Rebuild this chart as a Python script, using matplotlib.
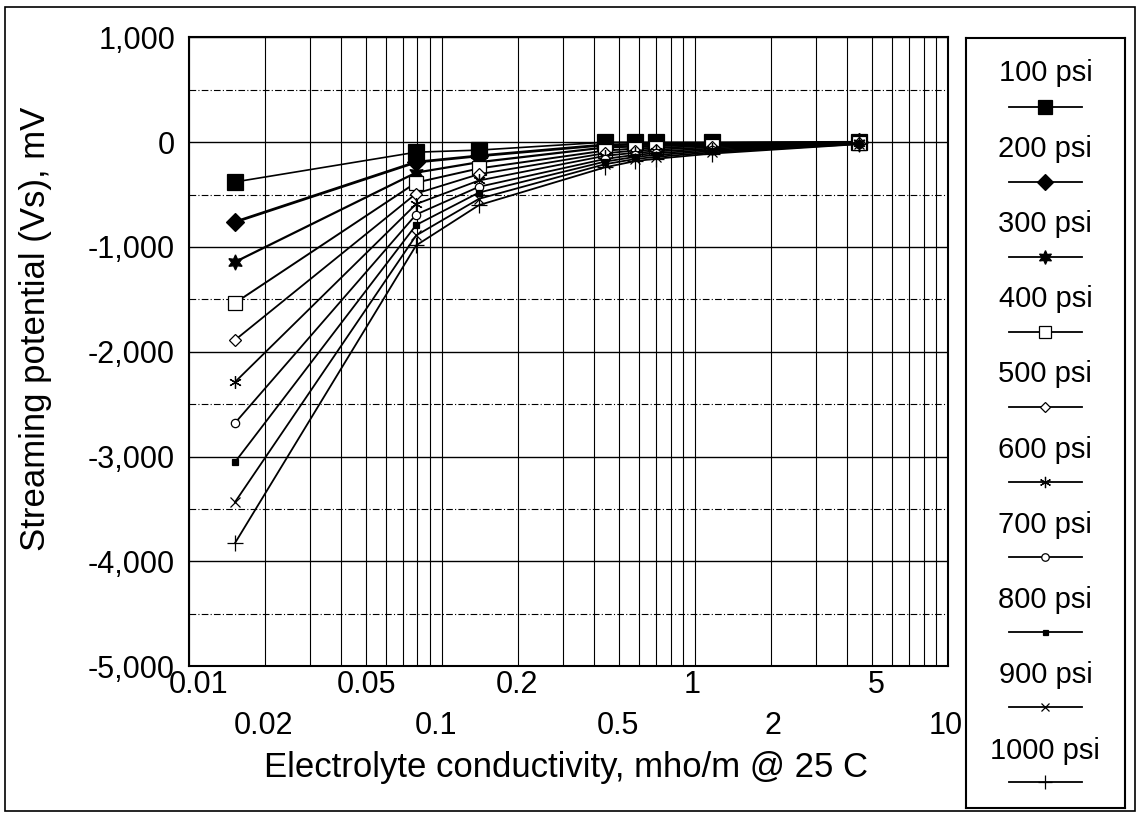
import matplotlib
matplotlib.use("Agg")
import matplotlib.pyplot as plt
from matplotlib.ticker import FixedLocator, LogLocator, FuncFormatter, NullFormatter
from matplotlib.lines import Line2D
from matplotlib.patches import Rectangle

plt.rcParams['font.family'] = ['Liberation Sans', 'DejaVu Sans']

# conductivity values (mho/m @ 25 C)
conductivity = [0.0152, 0.079, 0.14, 0.44, 0.58, 0.70, 1.17, 4.45]

# streaming potential (mV) for each pressure
pressures = ["100 psi", "200 psi", "300 psi", "400 psi", "500 psi",
             "600 psi", "700 psi", "800 psi", "900 psi", "1000 psi"]
vs_100 = [-379, -95, -75, 0, 0, 0, 0, 5]
vs_200 = [-761, -190, -130, -25, -20, -18, -12, -2]
vs_300 = [-1143, -290, -190, -50, -40, -35, -24, -4]
vs_400 = [-1534, -385, -250, -80, -60, -52, -36, -6]
vs_500 = [-1888, -490, -305, -105, -80, -70, -48, -8]
vs_600 = [-2289, -590, -365, -130, -100, -88, -60, -10]
vs_700 = [-2680, -690, -425, -160, -120, -105, -72, -12]
vs_800 = [-3053, -790, -480, -185, -140, -122, -84, -14]
vs_900 = [-3435, -890, -540, -210, -160, -140, -96, -16]
vs_1000 = [-3826, -985, -600, -240, -180, -158, -108, -18]
series = [vs_100, vs_200, vs_300, vs_400, vs_500,
          vs_600, vs_700, vs_800, vs_900, vs_1000]

# x labels are free text boxes in the original, placed in two rows
xlab_top = ["0.01", "0.05", "0.2", "1", "5"]
xlab_bottom = ["0.02", "0.1", "0.5", "2", "10"]
# horizontal placement of those text boxes (axes fraction)
xpos_top = [0.012, 0.234, 0.432, 0.663, 0.905]
xpos_bottom = [0.0975, 0.325, 0.565, 0.769, 0.997]

# marker styles: (marker, size, facecolor, linewidth)
styles = [
    ("s", 11, "black", 1.2),
    ("D", 9, "black", 2.0),
    ((6, 1, 0), 11, "black", 1.6),
    ("s", 10, "white", 1.4),
    ("D", 6, "white", 1.3),
    ((6, 2, 0), 9, "black", 1.3),
    ("o", 6, "white", 1.3),
    ("s", 4, "black", 1.3),
    ("x", 7, "black", 1.3),
    ("+", 11, "black", 1.3),
]

FS = 22

fig = plt.figure(figsize=(11.4, 8.15), dpi=100)
ax = fig.add_axes([0.1658, 0.1828, 0.6658, 0.7712])

for vals, (mk, ms, fc, lw) in zip(series, styles):
    ax.plot(conductivity, vals, color="black", linewidth=lw, marker=mk,
            markersize=ms, markerfacecolor=fc, markeredgecolor="black",
            markeredgewidth=0.9, zorder=3)

ax.set_xscale("log")
ax.set_xlim(0.01, 10)
ax.set_ylim(-5000, 1000)

ax.xaxis.set_major_locator(LogLocator(base=10))
ax.xaxis.set_minor_locator(LogLocator(base=10, subs=range(2, 10)))
ax.xaxis.set_major_formatter(NullFormatter())
ax.xaxis.set_minor_formatter(NullFormatter())
ax.yaxis.set_major_locator(FixedLocator(range(-5000, 1001, 1000)))
ax.yaxis.set_minor_locator(FixedLocator(range(-4500, 1000, 1000)))
ax.yaxis.set_major_formatter(FuncFormatter(lambda v, p: f"{v:,.0f}"))

ax.grid(True, which="both", axis="x", color="black", linewidth=0.8)
ax.grid(True, which="major", axis="y", color="black", linewidth=1.0)
ax.grid(True, which="minor", axis="y", color="black", linewidth=0.8,
        linestyle=(0, (6, 2, 1, 2)))
ax.tick_params(axis="x", which="both", length=0)
ax.tick_params(axis="y", which="both", length=0, labelsize=FS, pad=10)
for s in ax.spines.values():
    s.set_linewidth(1.5)

for x, t in zip(xpos_top, xlab_top):
    ax.text(x, -0.006, t, transform=ax.transAxes, ha="center",
            va="top", fontsize=FS)
for x, t in zip(xpos_bottom, xlab_bottom):
    ax.text(x, -0.072, t, transform=ax.transAxes, ha="center",
            va="top", fontsize=FS)

ax.set_xlabel("Electrolyte conductivity, mho/m @ 25 C", fontsize=25)
ax.xaxis.set_label_coords(0.497, -0.136)
ax.set_ylabel("Streaming potential (Vs), mV", fontsize=25)
ax.yaxis.set_label_coords(-0.18, 0.536)

# legend: label text above each line sample
lax = fig.add_axes([0.847, 0.0086, 0.14, 0.9444])
lax.set_xlim(0, 1)
lax.set_ylim(0, 1)
lax.set_xticks([])
lax.set_yticks([])
for s in lax.spines.values():
    s.set_linewidth(1.5)
for i, (name, (mk, ms, fc, lw)) in enumerate(zip(pressures, styles)):
    ty = 1 - (35 + i * 75.3) / 770.0
    ly = 1 - (69 + i * 75.0) / 770.0
    lax.text(0.5, ty, name, ha="center", va="center", fontsize=21)
    lax.add_line(Line2D([0.27, 0.5, 0.73], [ly, ly, ly], color="black",
                        linewidth=1.3, marker=mk, markevery=[1],
                        markersize=ms * 0.9, markerfacecolor=fc,
                        markeredgecolor="black", markeredgewidth=0.9))

fig.patches.append(Rectangle((0.004, 0.005), 0.992, 0.987, transform=fig.transFigure,
                             fill=False, edgecolor="black", linewidth=1.2))

fig.savefig("out.png", dpi=100)
